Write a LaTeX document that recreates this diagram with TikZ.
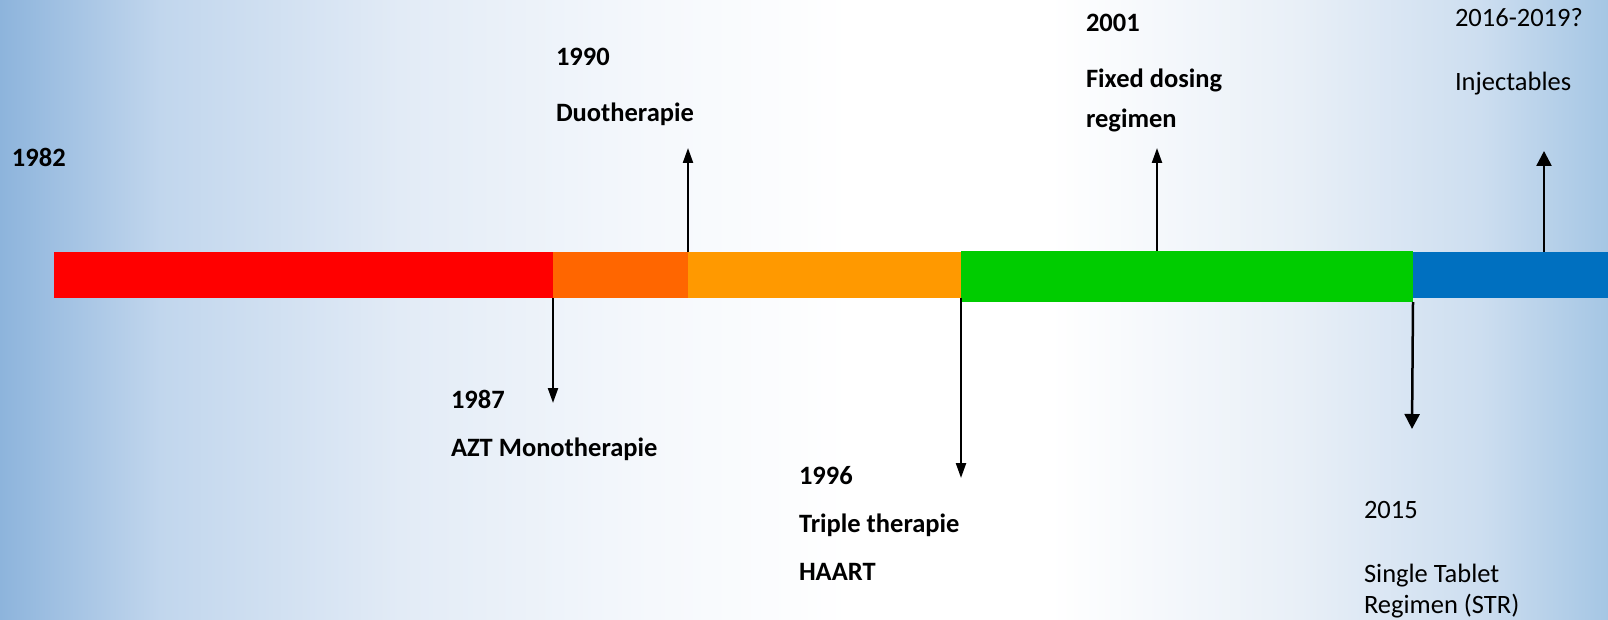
\documentclass[tikz,border=0pt]{standalone}
\usepackage{fontspec}
\setmainfont{Carlito}
\usetikzlibrary{arrows.meta}
\definecolor{bgL}{RGB}{141,180,220}
\definecolor{bgA}{RGB}{193,214,237}
\definecolor{bgB}{RGB}{226,235,246}
\definecolor{bgC}{RGB}{245,248,252}
\definecolor{bgD}{RGB}{232,239,247}
\definecolor{bgE}{RGB}{205,222,240}
\definecolor{bgR}{RGB}{165,198,228}
\definecolor{cRed}{HTML}{FF0000}
\definecolor{cDOrange}{HTML}{FF6600}
\definecolor{cOrange}{HTML}{FF9900}
\definecolor{cGreen}{HTML}{00CC00}
\definecolor{cBlue}{HTML}{0070C0}
\pgfdeclarehorizontalshading{bgshade}{100bp}{color(0bp)=(bgL); color(25bp)=(bgL); color(29.98bp)=(bgA); color(37.44bp)=(bgB); color(45.21bp)=(bgC); color(51.43bp)=(white); color(57.65bp)=(white); color(65.42bp)=(bgD); color(71.02bp)=(bgE); color(75bp)=(bgR); color(100bp)=(bgR)}
\tikzset{
  bar/.style={draw=none, inner sep=0pt, outer sep=0pt, anchor=north west},
  lbl/.style={inner sep=0pt, outer sep=0pt, anchor=base west, font=\fontsize{26.5}{32}\selectfont\bfseries},
  lblr/.style={inner sep=0pt, outer sep=0pt, anchor=base west, font=\fontsize{26.5}{32}\selectfont},
  arr/.style={line width=2.2pt, -{Triangle[width=10pt,length=15pt]}},
  arrb/.style={line width=2.5pt, -{Triangle[width=15pt,length=15pt]}}
}
\begin{document}
\begin{tikzpicture}[x=1pt,y=-1pt]
\useasboundingbox (0,0) rectangle (1608,620);
\shade[shading=bgshade] (0,0) rectangle (1608,620);
% bars
\node[bar, fill=cRed, minimum width=499pt, minimum height=46pt] (red) at (54,252) {};
\node[bar, fill=cDOrange, minimum width=135pt, minimum height=46pt] (dorange) at (553,252) {};
\node[bar, fill=cOrange, minimum width=273pt, minimum height=46pt] (orange) at (688,252) {};
\node[bar, fill=cBlue, minimum width=195pt, minimum height=46pt] (blue) at (1413,252) {};
\node[bar, fill=cGreen, minimum width=452pt, minimum height=51pt] (green) at (961,251) {};
% arrow end points
\coordinate (e1987) at (553,403);
\coordinate (e1990) at (688,148);
\coordinate (e1996) at (961,478);
\coordinate (e2001) at (1157,148);
\coordinate (e2015) at (1412,429);
\coordinate (e2016) at (1544,151);
\draw[arr] (red.south east) -- (e1987);
\draw[arr] (dorange.north east) -- (e1990);
\draw[arr] (orange.south east) -- (e1996);
\draw[arr] (green.north -| e2001) -- (e2001);
\draw[arrb] (green.south east) -- (e2015);
\draw[arrb] (blue.north -| e2016) -- (e2016);
% labels
\node[lbl] (t1982) at (12,167) {1982};
\node[lbl] (t1990) at (556,66) {1990};
\node[lbl] (d1990) at (556,122) {Duotherapie};
\node[lbl] (t1987) at (451,408) {1987};
\node[lbl] (d1987) at (451,456) {AZT Monotherapie};
\node[lbl] (t1996) at (799,484) {1996};
\node[lbl] (d1996) at (799,532) {Triple therapie};
\node[lbl] (h1996) at (799,580) {HAART};
\node[lbl] (t2001) at (1086,32) {2001};
\node[lbl] (d2001) at (1086,88) {Fixed dosing};
\node[lbl] (r2001) at (1086,128) {regimen};
\node[lblr] (t2016) at (1455,27) {2016-2019?};
\node[lblr] (d2016) at (1455,91) {Injectables};
\node[lblr] (t2015) at (1364,518) {2015};
\node[lblr] (d2015) at (1364,582) {Single Tablet};
\node[lblr] (r2015) at (1364,613) {Regimen (STR)};
\end{tikzpicture}
\end{document}
